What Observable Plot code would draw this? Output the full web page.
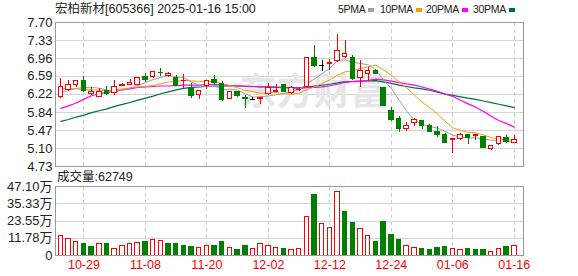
<!DOCTYPE html>
<html><head><meta charset="utf-8">
<script src="https://cdn.jsdelivr.net/npm/d3@7"></script>
<script src="https://cdn.jsdelivr.net/npm/@observablehq/plot@0.6"></script>
<style>
body{margin:0;background:#fff;}
#wrap{position:relative;width:578px;height:276px;overflow:hidden;background:#fff;font-family:"Liberation Sans",Arial,"Noto Sans CJK SC",sans-serif;color:#222;}
.abs{position:absolute;white-space:nowrap;line-height:1;}
.sw{position:absolute;width:6px;height:4px;}
</style></head><body><div id="wrap"></div>
<script>
// ---------- data ----------
const title = "宏柏新材[605366] 2025-01-16 15:00";
const dates = ["10-24","10-25","10-28","10-29","10-30","10-31","11-01","11-04","11-05","11-06",
  "11-07","11-08","11-11","11-12","11-13","11-14","11-15","11-18","11-19","11-20",
  "11-21","11-22","11-25","11-26","11-27","11-28","11-29","12-02","12-03","12-04",
  "12-05","12-06","12-09","12-10","12-11","12-12","12-13","12-16","12-17","12-18",
  "12-19","12-20","12-23","12-24","12-25","12-26","12-27","12-30","12-31","01-02",
  "01-03","01-06","01-07","01-08","01-09","01-10","01-13","01-14","01-15","01-16"];
const opens  = [6.16,6.31,6.42,6.50,6.22,6.16,6.29,6.24,6.40,6.41, 6.41,6.58,6.58,6.66,6.59,6.55,6.49,6.35,6.20,6.39,
                6.51,6.44,6.12,6.26,6.14,6.12,6.13,6.22,6.27,6.41, 6.24,6.30,6.37,6.97,6.82,6.85,6.90,6.99,6.96,6.55,
                6.63,6.70,6.35,5.88,5.70,5.51,5.63,5.66,5.56,5.44, 5.39,5.27,5.29,5.39,5.36,5.34,5.10,5.19,5.31,5.22];
const closes = [6.37,6.41,6.50,6.28,6.26,6.26,6.22,6.36,6.42,6.45, 6.55,6.52,6.67,6.65,6.63,6.39,6.50,6.19,6.29,6.50,
                6.46,6.11,6.27,6.18,6.13,6.12,6.15,6.35,6.29,6.27, 6.34,6.31,6.97,6.80,6.82,6.87,7.12,7.05,6.53,6.71,
                6.71,6.63,5.97,5.68,5.51,5.57,5.68,5.56,5.44,5.37, 5.22,5.29,5.39,5.32,5.39,5.12,5.15,5.34,5.24,5.27];
const highs  = [6.55,6.50,6.51,6.58,6.36,6.34,6.39,6.51,6.44,6.53, 6.55,6.65,6.67,6.75,6.67,6.61,6.62,6.44,6.29,6.51,
                6.61,6.48,6.27,6.27,6.19,6.16,6.16,6.45,6.43,6.41, 6.37,6.33,6.97,7.23,6.92,6.94,7.46,7.33,7.02,6.92,
                6.78,6.73,6.35,5.95,5.77,5.63,5.73,5.66,5.60,5.56, 5.41,5.29,5.41,5.39,5.39,5.34,5.17,5.34,5.36,5.36];
const lows   = [6.14,6.28,6.36,6.26,6.19,6.16,6.20,6.20,6.37,6.41, 6.40,6.46,6.54,6.58,6.56,6.39,6.33,6.14,6.12,6.31,
                6.41,6.07,6.12,6.16,5.92,6.09,6.00,6.19,6.27,6.27, 6.22,6.27,6.37,6.77,6.69,6.70,6.87,6.96,6.51,6.36,
                6.48,6.62,5.97,5.65,5.43,5.46,5.56,5.49,5.44,5.32, 5.22,5.00,5.27,5.18,5.26,5.12,5.05,5.16,5.20,5.22];
const volumes = [129700,113750,95550,79600,61400,79600,79600,45500,66000,79600,
                 88700,95550,102400,97800,79600,79600,68250,61400,52300,68250,
                 68250,95550,52300,40950,68250,45500,79600,68250,52300,45500,
                 38700,45500,266200,416300,216100,188800,434500,300300,220700,182000,
                 129700,91000,227500,143300,102400,66000,52300,45500,40950,52300,
                 61400,45500,38700,45500,38700,38700,27300,45500,61400,62749];
const volUp = [1,1,1,0,0,1,0,1,1,1, 1,0,1,1,0,0,0,0,1,1, 0,0,1,0,0,1,1,1,1,0,
               1,1,1,0,1,1,1,0,0,1, 1,0,0,0,0,1,1,0,0,0, 0,1,1,0,0,0,1,1,0,1];
// moving-average values before enough closes are on screen
const ma5Early  = [6.26,6.30,6.34,6.36];
const ma10Early = [6.34,6.34,6.33,6.32,6.31,6.30,6.30,6.31,6.33];
const ma20Early = [5.93,5.98,6.04,6.12,6.19,6.23,6.26,6.28,6.31,6.33,6.36,6.37,6.38,6.39,6.39,6.40,6.41,6.41,6.41];
const ma30Early = [5.66,5.70,5.75,5.79,5.84,5.88,5.92,5.97,6.01,6.05,6.10,6.14,6.18,6.23,6.27,6.31,6.34,6.36,6.37,
                   6.38,6.39,6.39,6.39,6.39,6.38,6.38,6.37,6.37,6.36];
const priceTicks = [7.70,7.33,6.96,6.59,6.22,5.84,5.47,5.10,4.73];
const volTicksWan = [0,11.78,23.55,35.33,47.10];
const xTickLabels = ["10-29","11-08","11-20","12-02","12-12","12-24","01-06","01-16"];
const maNames = ["5PMA","10PMA","20PMA","30PMA"];
const maColors = ["#a0a0a0","#f0a000","#ff00ff","#006f3c"];
const RED = "#ff0000", GREEN = "#008000";

// ---------- derived ----------
function ma(n, early) {
  return closes.map((c, i) => i < n - 1 ? early[i] : d3.mean(closes.slice(i - n + 1, i + 1)));
}
const mas = [ma(5, ma5Early), ma(10, ma10Early), ma(20, ma20Early), ma(30, ma30Early)];
const data = dates.map((d, i) => ({i, date: d, o: opens[i], c: closes[i], h: highs[i], l: lows[i],
  v: volumes[i], vu: volUp[i], ma5: mas[0][i], ma10: mas[1][i], ma20: mas[2][i], ma30: mas[3][i]}));
const col = d => d.c > d.o ? RED : d.c < d.o ? GREEN : "#000";
const bodies = data.filter(d => d.c !== d.o);
const flats = data.filter(d => d.c === d.o);
const tickIdx = xTickLabels.map(l => dates.indexOf(l));
const xDomain = [-0.7, 60.2];
const W = 578, ML = 55, MR = 55;
const font = `"Liberation Sans", Arial, "Noto Sans CJK SC", sans-serif`;
const wrap = document.getElementById("wrap");

// ---------- price panel ----------
const main = Plot.plot({
  width: W, height: 168, marginLeft: ML, marginRight: MR, marginTop: 22, marginBottom: 2,
  style: {fontSize: "13px", fontFamily: font, color: "#222", background: "transparent", overflow: "visible"},
  x: {domain: xDomain, axis: null, label: null},
  y: {domain: [4.73, 7.70], ticks: priceTicks, tickFormat: d => d.toFixed(2), tickSize: 0, tickPadding: 3, label: null},
  marks: [
    Plot.ruleY(priceTicks.slice(1, -1), {stroke: "#d4d4d4", shapeRendering: "crispEdges"}),
    Plot.ruleX(tickIdx, {stroke: "#cfcfcf", strokeDasharray: "4,3", shapeRendering: "crispEdges"}),
    Plot.text(["东方财富"], {frameAnchor: "top-left", dx: 258, dy: 71, fontSize: 37, fontWeight: "bold",
      fontFamily: "Noto Sans CJK SC", fill: "#e6e6e6", textAnchor: "middle", lineAnchor: "middle"}),
    Plot.line(data, {x: "i", y: "ma30", stroke: maColors[3], strokeWidth: 1.2}),
    Plot.line(data, {x: "i", y: "ma20", stroke: maColors[2], strokeWidth: 1.2}),
    Plot.line(data, {x: "i", y: "ma10", stroke: maColors[1], strokeWidth: 1}),
    Plot.line(data, {x: "i", y: "ma5", stroke: maColors[0], strokeWidth: 1}),
    Plot.ruleX(data, {x: "i", y1: "l", y2: "h", stroke: col, shapeRendering: "crispEdges"}),
    Plot.rect(bodies, {x1: d => d.i - 0.29, x2: d => d.i + 0.29, y1: "o", y2: "c", inset: 0,
      fill: d => d.c > d.o ? "#fff" : GREEN, stroke: col, strokeWidth: 1, shapeRendering: "crispEdges"}),
    Plot.ruleY(flats, {y: "c", x1: d => d.i - 0.35, x2: d => d.i + 0.35, stroke: "#000", shapeRendering: "crispEdges"}),
    Plot.frame({stroke: "#9a9a9a", shapeRendering: "crispEdges"})
  ]
});
main.style.position = "absolute"; main.style.left = "0px"; main.style.top = "0px";
wrap.appendChild(main);

// ---------- volume panel ----------
const vol = Plot.plot({
  width: W, height: 106, marginLeft: ML, marginRight: MR, marginTop: 16, marginBottom: 21,
  style: {fontSize: "13px", fontFamily: font, color: "#222", background: "transparent", overflow: "visible"},
  x: {domain: xDomain, ticks: tickIdx, tickFormat: i => dates[i], tickSize: 0, tickPadding: 5, label: null},
  y: {domain: [0, 471000], ticks: volTicksWan.map(v => v * 10000),
      tickFormat: v => v === 0 ? "0" : (v / 10000).toFixed(2) + "万", tickSize: 0, tickPadding: 3, label: null},
  marks: [
    Plot.ruleY(volTicksWan.slice(1, -1).map(v => v * 10000), {stroke: "#d4d4d4", shapeRendering: "crispEdges"}),
    Plot.ruleX(tickIdx, {stroke: "#cfcfcf", strokeDasharray: "4,3", shapeRendering: "crispEdges"}),
    Plot.rect(data, {x1: d => d.i - 0.29, x2: d => d.i + 0.29, y1: 0, y2: "v", inset: 0,
      fill: d => d.vu ? "#fff" : GREEN, stroke: d => d.vu ? RED : GREEN, strokeWidth: 1, shapeRendering: "crispEdges"}),
    Plot.frame({stroke: "#9a9a9a", shapeRendering: "crispEdges"})
  ]
});
vol.style.position = "absolute"; vol.style.left = "0px"; vol.style.top = "170px";
wrap.appendChild(vol);
d3.select(vol).selectAll("[aria-label='x-axis tick label'] text").attr("fill", RED).style("font-size", "12.5px");
d3.select(vol).selectAll("[aria-label='x-axis tick label']").attr("fill", RED);

// ---------- texts ----------
function addText(txt, left, top, size, color) {
  const el = document.createElement("div");
  el.className = "abs"; el.textContent = txt;
  el.style.left = left + "px"; el.style.top = top + "px"; el.style.fontSize = size + "px";
  if (color) el.style.color = color;
  wrap.appendChild(el); return el;
}
addText(title, 55, 3, 12.5, "#222");
addText("成交量:" + volumes[volumes.length - 1], 57, 171, 12.5, "#222");
const legLeft = [338, 380, 426, 473];
maNames.forEach((n, k) => {
  const t = addText(n, legLeft[k], 4, 10.5, "#222");
  t.style.letterSpacing = "-0.3px";
  const s = document.createElement("div");
  s.className = "sw"; s.style.background = maColors[k];
  s.style.left = (legLeft[k] + t.getBoundingClientRect().width + 3) + "px"; s.style.top = "8px";
  wrap.appendChild(s);
});
</script></body></html>
